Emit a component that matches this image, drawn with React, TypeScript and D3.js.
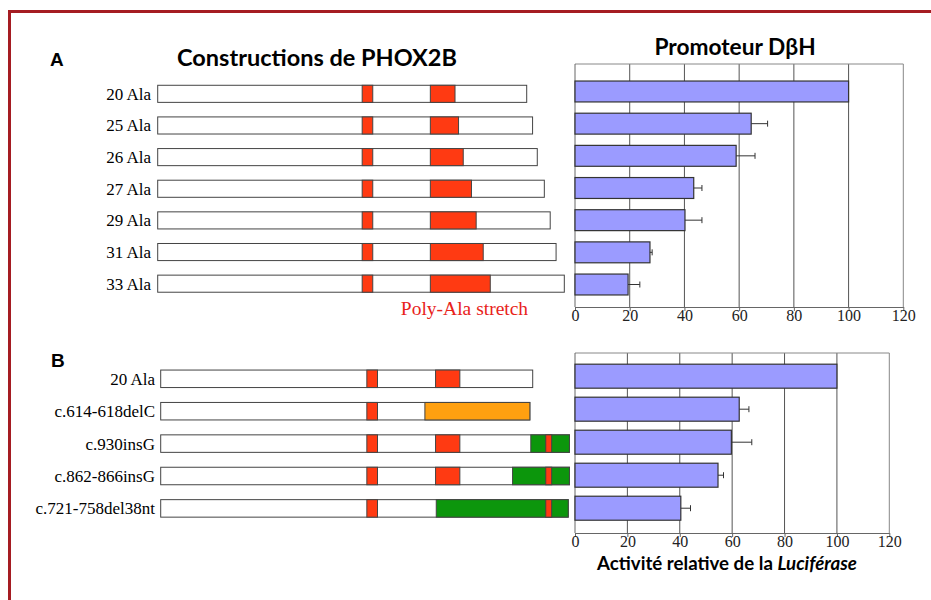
import { useEffect, useRef } from "react";
import * as d3 from "d3";

// Panel A: poly-Ala length constructs
const constructsA = ["20 Ala", "25 Ala", "26 Ala", "27 Ala", "29 Ala", "31 Ala", "33 Ala"];
const lengthA = [314, 319, 323, 329, 334, 339, 346];
const polyAlaEndA = [253, 256, 260, 267, 271, 277, 283];
const activityA = [100, 64.4, 58.9, 43.4, 40.2, 27.4, 19.4];
const errorA = [0, 6, 6.9, 3, 6.2, 0.8, 4.3];

// Panel B: frameshift mutants
const constructsB = ["20 Ala", "c.614-618delC", "c.930insG", "c.862-866insG", "c.721-758del38nt"];
const lengthB = [314, 311.6, 345, 345, 344];
const polyAlaB = [true, false, true, true, false];
const frameshiftStartB = [null, 223, 312.4, 297, 232.6];
const frameshiftKindB = ["", "orange", "green", "green", "green"];
const activityB = [100, 62.7, 59.7, 54.6, 40.4];
const errorB = [0, 3.7, 7.8, 2.1, 3.7];

const ticks = [0, 20, 40, 60, 80, 100, 120];

// domains (aa positions)
const ala9 = [174, 183];
const polyAlaStart = 232;
const stripe = [325, 330];

const RED = "#ff3a12";
const ORANGE = "#ffa010";
const GREEN = "#0c960c";
const BAR = "#9b9bff";

const SANS = "Lato, 'Open Sans', sans-serif";
const SERIF = "'Liberation Serif', 'Times New Roman', serif";

export default function App() {
  const axisA = useRef<SVGGElement | null>(null);
  const axisB = useRef<SVGGElement | null>(null);

  // bar chart scales
  const xA = d3.scaleLinear().domain([0, 120]).range([575, 903.3]);
  const xB = d3.scaleLinear().domain([0, 120]).range([575, 889.3]);
  const yA = d3.scaleBand().domain(constructsA).range([75.4, 300.6]).paddingInner(0.35).paddingOuter(0.175);
  const yB = d3.scaleBand().domain(constructsB).range([359.7, 524.7]).paddingInner(0.273).paddingOuter(0.136);
  const plotA = { top: 64, bottom: 307 };
  const plotB = { top: 353, bottom: 533 };

  // construct diagram scales
  const pA = d3.scaleLinear().domain([0, 314]).range([157.7, 526.7]);
  const pB = d3.scaleLinear().domain([0, 314]).range([160.7, 532.7]);
  const cA = d3.scaleBand().domain(constructsA).range([78, 299.5]).paddingInner(0.46).paddingOuter(0.23);
  const cB = d3.scaleBand().domain(constructsB).range([362.6, 524.6]).paddingInner(0.46).paddingOuter(0.23);

  useEffect(() => {
    const draw = (g: SVGGElement | null, x: d3.ScaleLinear<number, number>) => {
      if (!g) return;
      const sel = d3.select(g);
      sel.selectAll("*").remove();
      sel.call(d3.axisBottom(x).tickValues(ticks).tickSize(4).tickSizeOuter(0).tickFormat(d3.format("d")) as any);
      sel.select(".domain").attr("stroke", "#666");
      sel.selectAll(".tick line").attr("stroke", "#666");
      sel.selectAll(".tick text")
        .attr("font-family", SERIF)
        .attr("font-size", 16)
        .attr("fill", "#222")
        .attr("dy", "0.45em");
    };
    draw(axisA.current, xA);
    draw(axisB.current, xB);
  }, []);

  const grid = (x: d3.ScaleLinear<number, number>, top: number, bottom: number) => (
    <g>
      {ticks.slice(1).map((t) => (
        <line key={t} x1={x(t)} x2={x(t)} y1={top} y2={bottom} stroke={t === 120 ? "#888" : "#555"} strokeWidth={1} />
      ))}
      <line x1={x(0)} x2={x(120)} y1={top} y2={top} stroke="#888" />
      <line x1={x(0)} x2={x(0)} y1={top} y2={bottom} stroke="#666" />
    </g>
  );

  const bars = (
    names: string[],
    vals: number[],
    errs: number[],
    x: d3.ScaleLinear<number, number>,
    y: d3.ScaleBand<string>
  ) =>
    names.map((n, i) => {
      const y0 = y(n)!;
      const h = y.bandwidth();
      const xe = x(vals[i] + errs[i]);
      return (
        <g key={n}>
          <rect x={x(0)} y={y0} width={x(vals[i]) - x(0)} height={h} fill={BAR} stroke="#333" strokeWidth={1.2} />
          {errs[i] > 0 && (
            <g stroke="#333" strokeWidth={1}>
              <line x1={x(vals[i])} x2={xe} y1={y0 + h / 2} y2={y0 + h / 2} />
              <line x1={xe} x2={xe} y1={y0 + h / 2 - 3} y2={y0 + h / 2 + 3} />
            </g>
          )}
        </g>
      );
    });

  const seg = (
    p: d3.ScaleLinear<number, number>,
    a: number,
    b: number,
    y0: number,
    h: number,
    fill: string,
    key: string
  ) => <rect key={key} x={p(a)} y={y0} width={p(b) - p(a)} height={h} fill={fill} stroke="#444" strokeWidth={1} />;

  return (
    <svg
      width={931}
      height={600}
      style={{ position: "absolute", left: 0, top: 0, background: "#fff" }}
    >
      <rect x={0} y={0} width={931} height={600} fill="#fff" />
      {/* frame */}
      <path d="M9.5,640 V11.5 H960" fill="none" stroke="#a51c22" strokeWidth={3} />

      {/* headings */}
      <text x={50} y={66} fontFamily="Arial, 'Liberation Sans', sans-serif" fontWeight="bold" fontSize={19}>A</text>
      <text x={51} y={367} fontFamily="Arial, 'Liberation Sans', sans-serif" fontWeight="bold" fontSize={19}>B</text>
      <text x={317} y={66} textAnchor="middle" fontFamily={SANS} fontWeight="bold" fontSize={23.5}>Constructions de PHOX2B</text>
      <text x={735} y={55} textAnchor="middle" fontFamily={SANS} fontWeight="bold" fontSize={22.7}>Promoteur DβH</text>

      {/* panel A constructs */}
      {constructsA.map((n, i) => {
        const y0 = cA(n)!;
        const h = cA.bandwidth();
        return (
          <g key={n}>
            <text x={151} y={y0 + h / 2} dy="0.35em" textAnchor="end" fontFamily={SERIF} fontSize={17}>{n}</text>
            {seg(pA, 0, lengthA[i], y0, h, "#fff", "body")}
            {seg(pA, ala9[0], ala9[1], y0, h, RED, "ala9")}
            {seg(pA, polyAlaStart, polyAlaEndA[i], y0, h, RED, "poly")}
          </g>
        );
      })}
      <text x={464.5} y={315} textAnchor="middle" fontFamily={SERIF} fontSize={19.5} fill="#e8231a">Poly-Ala stretch</text>

      {/* panel B constructs */}
      {constructsB.map((n, i) => {
        const y0 = cB(n)!;
        const h = cB.bandwidth();
        const fs = frameshiftStartB[i];
        return (
          <g key={n}>
            <text x={155} y={y0 + h / 2} dy="0.35em" textAnchor="end" fontFamily={SERIF} fontSize={17}>{n}</text>
            {seg(pB, 0, lengthB[i], y0, h, "#fff", "body")}
            {seg(pB, ala9[0], ala9[1], y0, h, RED, "ala9")}
            {polyAlaB[i] && seg(pB, polyAlaStart, 252.5, y0, h, RED, "poly")}
            {fs !== null && seg(pB, fs, lengthB[i], y0, h, frameshiftKindB[i] === "orange" ? ORANGE : GREEN, "fs")}
            {frameshiftKindB[i] === "green" && seg(pB, stripe[0], stripe[1], y0, h, RED, "stripe")}
          </g>
        );
      })}

      {/* panel A bars */}
      {grid(xA, plotA.top, plotA.bottom)}
      {bars(constructsA, activityA, errorA, xA, yA)}
      <g ref={axisA} transform={`translate(0,${plotA.bottom})`} />

      {/* panel B bars */}
      {grid(xB, plotB.top, plotB.bottom)}
      {bars(constructsB, activityB, errorB, xB, yB)}
      <g ref={axisB} transform={`translate(0,${plotB.bottom})`} />

      <text x={727} y={570} textAnchor="middle" fontFamily={SANS} fontWeight="bold" fontSize={18.7}>
        Activité relative de la <tspan fontStyle="italic">Luciférase</tspan>
      </text>
    </svg>
  );
}
